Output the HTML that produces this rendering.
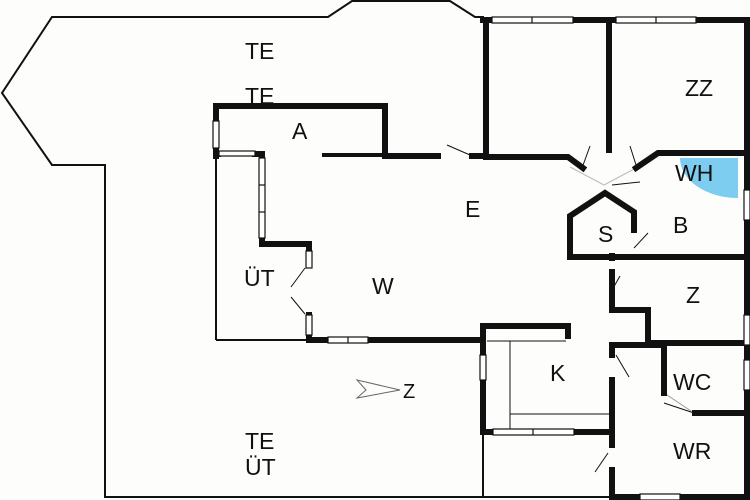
<!DOCTYPE html>
<html><head><meta charset="utf-8"><style>
html,body{margin:0;padding:0;background:#fff;}
svg{display:block;}
text{font-family:"Liberation Sans",sans-serif;font-size:23px;fill:#111;}
</style></head><body>
<svg width="750" height="500" viewBox="0 0 750 500" xmlns="http://www.w3.org/2000/svg">
<rect width="750" height="500" fill="#fdfdfb"/>
<!-- WH blue -->
<path d="M738,158 L680,158 A58,40 0 0 0 738,198 Z" fill="#7dcdf0"/>
<!-- thin outline -->
<g fill="none" stroke="#111" stroke-width="2">
<polyline points="484,17 475,17 450,1 352,1 328,17 52,17 2,93 52,165 105,165 105,497 612,497"/>
<line x1="216" y1="156" x2="216" y2="340"/><line x1="216" y1="340" x2="306" y2="340"/>
<line x1="483" y1="432" x2="483" y2="497"/>
<line x1="322" y1="155" x2="382" y2="155" stroke-width="4"/>
</g>
<g fill="none" stroke="#111" stroke-width="1">
<line x1="510" y1="341" x2="510" y2="430"/><line x1="487" y1="341" x2="566" y2="341"/>
<line x1="510" y1="414" x2="610" y2="414"/>
<!-- doors -->
<line x1="447" y1="145" x2="470" y2="155"/>
<line x1="582" y1="168" x2="590" y2="146"/>
<line x1="637" y1="168" x2="630" y2="146"/>
<line x1="612" y1="185" x2="640" y2="182"/>
<line x1="634" y1="248" x2="648" y2="233"/>
<line x1="291" y1="287" x2="305" y2="268"/><line x1="291" y1="297" x2="305" y2="314"/>
<line x1="612" y1="290" x2="620" y2="276"/>
<line x1="616" y1="355" x2="629" y2="377"/>
<line x1="664" y1="403" x2="694" y2="413"/>
<line x1="608" y1="453" x2="595" y2="472"/>
<line x1="570" y1="167" x2="604" y2="185" stroke="#bbb"/>
<line x1="604" y1="185" x2="636" y2="168" stroke="#bbb"/>
<line x1="664" y1="393" x2="694" y2="413" stroke="#999"/>
<!-- compass -->
<polygon points="357,380 400,390 357,398 366,390" stroke="#666"/>
</g>
<!-- thick walls -->
<g fill="none" stroke="#111" stroke-width="6" stroke-linecap="square">
<line x1="483" y1="20" x2="492" y2="20"/><line x1="573" y1="20" x2="616" y2="20"/><line x1="696" y1="20" x2="746" y2="20"/>
<line x1="486" y1="20" x2="486" y2="157"/>
<line x1="609" y1="20" x2="609" y2="150"/>
<polyline points="486,157 568,157 583,168"/>
<polyline points="636,168 658,153 746,153"/>
<line x1="747" y1="20" x2="747" y2="190"/><line x1="747" y1="220" x2="747" y2="315"/><line x1="747" y1="345" x2="747" y2="360"/><line x1="747" y1="390" x2="747" y2="497"/>
<polyline points="216,121 216,106 385,106 385,156 438,156"/>
<line x1="472" y1="156" x2="486" y2="156"/>
<line x1="216" y1="148" x2="216" y2="156"/>
<polyline points="216,154 218,154"/><polyline points="255,154 262,154 262,158"/>
<polyline points="262,238 262,244 309,244 309,251"/>
<line x1="309" y1="315" x2="309" y2="340"/>
<polyline points="309,340 328,340"/><line x1="368" y1="340" x2="483" y2="340"/>
<polyline points="483,340 483,326 568,326 568,336"/>
<line x1="483" y1="340" x2="483" y2="355"/><line x1="483" y1="380" x2="483" y2="432"/>
<line x1="483" y1="432" x2="493" y2="432"/><line x1="574" y1="432" x2="612" y2="432"/>
<line x1="612" y1="345" x2="612" y2="355"/><line x1="612" y1="380" x2="612" y2="445"/><line x1="612" y1="470" x2="612" y2="497"/>
<line x1="612" y1="345" x2="664" y2="345"/>
<line x1="664" y1="345" x2="664" y2="393"/>
<line x1="695" y1="413" x2="746" y2="413"/>
<line x1="612" y1="497" x2="640" y2="497"/><line x1="680" y1="497" x2="746" y2="497"/>
<polyline points="612,258 612,256"/>
<polyline points="612,272 612,310 648,310 648,343 746,343"/>
<polyline points="634,230 634,212 605,193 570,216 570,257 746,257"/>
</g>
<!-- windows -->
<g fill="#fff" stroke="#111" stroke-width="1.2">
<rect x="492" y="17" width="81" height="6"/><line x1="532" y1="17" x2="532" y2="23"/>
<rect x="616" y="17" width="80" height="6"/><line x1="656" y1="17" x2="656" y2="23"/>
<rect x="744" y="190" width="6" height="30"/><rect x="744" y="315" width="6" height="30"/><rect x="744" y="360" width="6" height="30"/>
<rect x="213" y="121" width="6" height="27"/>
<rect x="219" y="151" width="36" height="5"/>
<rect x="259" y="158" width="6" height="80"/><line x1="259" y1="185" x2="265" y2="185"/><line x1="259" y1="212" x2="265" y2="212"/>
<rect x="306" y="251" width="6" height="17"/><rect x="306" y="315" width="6" height="20"/>
<rect x="328" y="337" width="40" height="6"/><line x1="348" y1="337" x2="348" y2="343"/>
<rect x="480" y="355" width="6" height="25"/>
<rect x="493" y="429" width="81" height="6"/><line x1="533" y1="429" x2="533" y2="435"/>
<rect x="640" y="494" width="40" height="6"/>
</g>
<text x="245" y="59">TE</text>
<text x="245" y="104">TE</text>
<text x="292" y="139">A</text>
<text x="685" y="96">ZZ</text>
<text x="675" y="181">WH</text>
<text x="465" y="217">E</text>
<text x="598" y="242">S</text>
<text x="673" y="233">B</text>
<text x="244" y="286">ÜT</text>
<text x="372" y="294">W</text>
<text x="686" y="303">Z</text>
<text x="550" y="381">K</text>
<text x="673" y="390">WC</text>
<text x="673" y="459">WR</text>
<text x="403" y="398" style="font-size:20px">Z</text>
<text x="245" y="449">TE</text>
<text x="245" y="475">ÜT</text>
</svg>
</body></html>
